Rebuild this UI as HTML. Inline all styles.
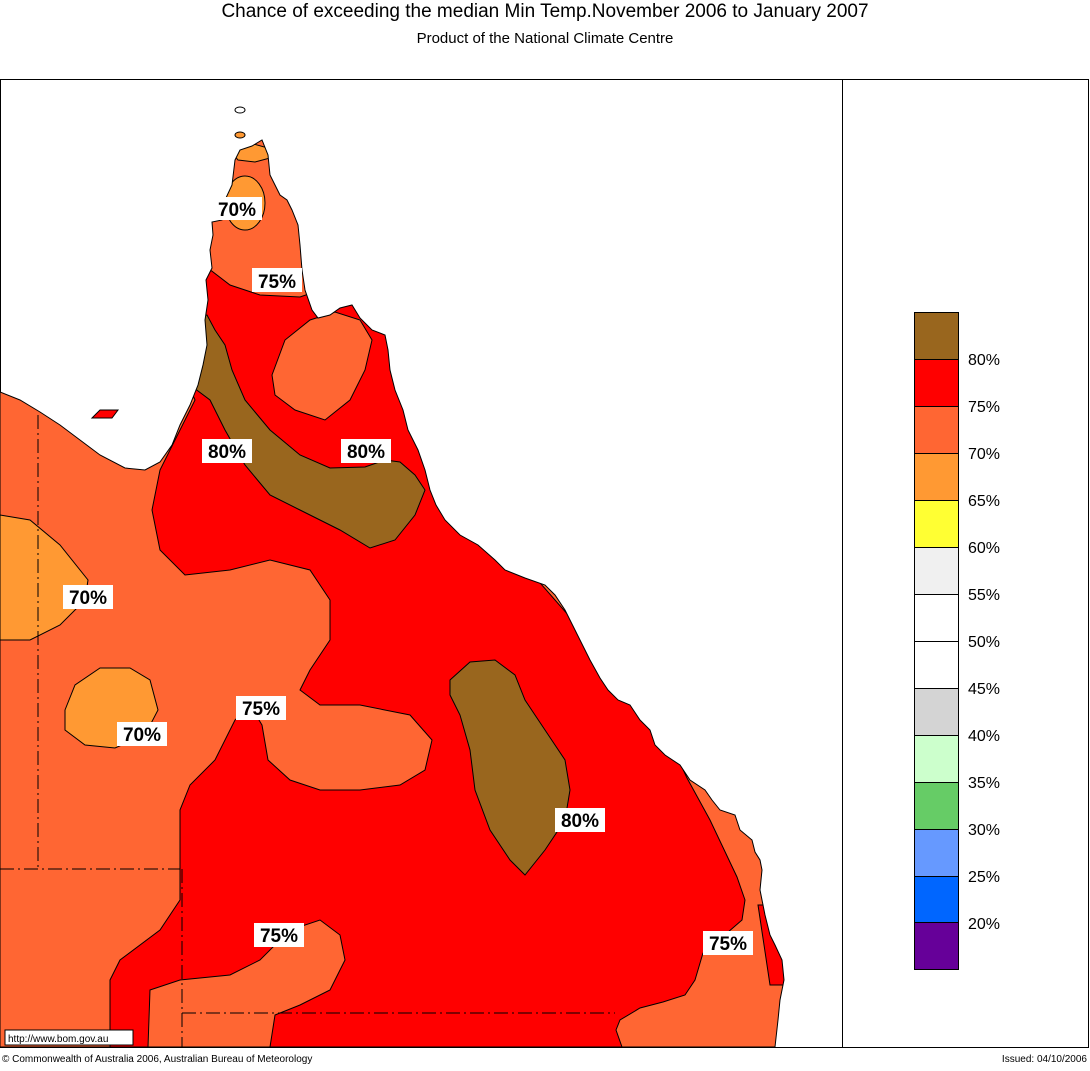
<!DOCTYPE html>
<html><head><meta charset="utf-8"><style>
html,body{margin:0;padding:0;background:#fff;}
body{width:1090px;height:1066px;overflow:hidden;font-family:"Liberation Sans",sans-serif;}
</style></head><body>
<svg width="1090" height="1066" viewBox="0 0 1090 1066" xmlns="http://www.w3.org/2000/svg" font-family="Liberation Sans, sans-serif">
<defs>
<clipPath id="land"><path id="landp" d="M0,392 L20,400 40,412 60,425 80,440 100,455 125,468 145,470 160,462 172,445 180,425 190,405 198,385 203,365 207,345 205,320 208,300 206,280 212,268 210,250 213,235 212,222 222,220 225,200 232,185 235,160 240,150 252,146 262,140 268,155 270,175 280,195 287,200 292,210 298,225 300,245 302,270 305,290 312,310 318,318 330,315 340,308 352,305 360,318 372,330 385,335 388,350 390,370 395,390 403,410 408,430 418,450 425,470 430,490 436,505 445,520 460,535 478,545 495,560 505,570 525,578 545,585 555,595 565,610 575,630 590,660 600,678 608,690 618,700 630,705 640,720 650,730 655,745 665,755 680,765 690,780 705,790 712,800 720,810 735,815 740,830 752,840 755,852 760,860 762,870 760,890 762,900 765,915 770,935 775,945 782,960 784,980 780,1000 778,1020 775,1047 0,1047 Z"/></clipPath>
</defs>
<text x="545" y="17" text-anchor="middle" font-size="19">Chance of exceeding the median Min Temp.November 2006 to January 2007</text>
<text x="545" y="43" text-anchor="middle" font-size="15">Product of the National Climate Centre</text>
<rect x="0.5" y="79.5" width="842" height="968" fill="#fff" stroke="#000"/>
<rect x="842.5" y="79.5" width="246" height="968" fill="#fff" stroke="#000"/>
<g clip-path="url(#land)">
<rect x="0" y="79" width="842" height="968" fill="#ff6633"/>
<path fill="#ff0000" stroke="#000" stroke-width="1" d="M200,262 L230,285 260,295 300,297 320,290 400,320 520,560 660,720 687,778 710,820 737,877 745,900 742,920 727,933 703,953 695,980 685,995 663,1002 640,1008 620,1020 616,1030 622,1047 110,1047 110,980 120,960 160,930 180,900 180,860 180,810 190,785 215,760 235,720 250,705 262,725 268,760 290,780 320,790 360,790 400,785 425,770 432,740 410,715 360,705 320,705 300,690 310,670 330,640 330,600 310,570 270,560 230,570 185,575 160,550 152,510 160,470 180,430 195,400 150,300 Z"/>
<path fill="#ff0000" stroke="#000" d="M758,905 L772,905 790,985 770,985 Z"/>
<path fill="#ff6633" stroke="#000" d="M272,375 L285,340 310,320 335,312 360,320 372,340 365,370 350,400 325,420 295,410 275,395 Z"/>
<path fill="#ff6633" stroke="#000" d="M150,990 L180,980 230,975 260,960 290,930 320,920 340,935 345,960 330,990 300,1005 275,1015 270,1047 148,1047 Z"/>
<path fill="#99661e" stroke="#000" d="M190,318 L207,315 215,330 225,345 232,370 245,400 270,430 300,455 330,468 365,467 385,460 400,462 415,475 425,490 415,515 395,540 370,548 340,530 300,510 270,495 245,465 225,430 210,400 190,385 Z"/>
<path fill="#99661e" stroke="#000" d="M450,680 L470,662 495,660 515,675 525,700 545,730 565,760 570,790 565,820 545,850 525,875 510,860 490,830 475,790 470,750 460,715 450,695 Z"/>
<path fill="#ff9933" stroke="#000" d="M0,515 L30,520 60,545 88,580 85,600 60,625 30,640 0,640 Z"/>
<path fill="#ff9933" stroke="#000" d="M65,710 L75,685 100,668 130,668 150,680 158,710 145,735 115,748 85,745 65,730 Z"/>
<ellipse cx="245" cy="203" rx="20" ry="27" fill="#ff9933" stroke="#000"/>
<path fill="#ff9933" stroke="#000" d="M230,150 L250,143 268,148 270,158 255,162 238,160 Z"/>
</g>
<use href="#landp" fill="none" stroke="#000" stroke-width="1"/>
<path d="M92,418 L100,410 118,410 112,418 Z" fill="#ff0000" stroke="#000"/>
<ellipse cx="240" cy="135" rx="5" ry="3" fill="#ff9933" stroke="#000"/>
<ellipse cx="240" cy="110" rx="5" ry="3" fill="#fff" stroke="#000"/>
<g stroke="#000" stroke-dasharray="14,4,2,4" fill="none">
<path d="M38,415 V870"/><path d="M0,869 H180"/><path d="M182,869 V1047"/><path d="M182,1013 H615"/>
</g>
<g font-size="19" text-anchor="middle" font-weight="bold">
<rect x="212" y="197" width="50" height="23" fill="#fff"/><text x="237" y="216">70%</text>
<rect x="252" y="268" width="50" height="24" fill="#fff"/><text x="277" y="288">75%</text>
<rect x="202" y="439" width="50" height="24" fill="#fff"/><text x="227" y="458">80%</text>
<rect x="341" y="439" width="50" height="24" fill="#fff"/><text x="366" y="458">80%</text>
<rect x="63" y="585" width="50" height="24" fill="#fff"/><text x="88" y="604">70%</text>
<rect x="117" y="722" width="50" height="24" fill="#fff"/><text x="142" y="741">70%</text>
<rect x="236" y="696" width="50" height="24" fill="#fff"/><text x="261" y="715">75%</text>
<rect x="555" y="808" width="50" height="24" fill="#fff"/><text x="580" y="827">80%</text>
<rect x="254" y="923" width="50" height="24" fill="#fff"/><text x="279" y="942">75%</text>
<rect x="703" y="931" width="50" height="24" fill="#fff"/><text x="728" y="950">75%</text>
</g>
<rect x="5" y="1030" width="128" height="15" fill="#fff" stroke="#000"/>
<text x="8" y="1042" font-size="10">http://www.bom.gov.au</text>
<text x="2" y="1062" font-size="10">© Commonwealth of Australia 2006, Australian Bureau of Meteorology</text>
<text x="1087" y="1062" font-size="10" text-anchor="end">Issued: 04/10/2006</text>
<g stroke="#000">
<rect x="914.5" y="312.5" width="44" height="47" fill="#99661e"/>
<rect x="914.5" y="359.5" width="44" height="47" fill="#ff0000"/>
<rect x="914.5" y="406.5" width="44" height="47" fill="#ff6633"/>
<rect x="914.5" y="453.5" width="44" height="47" fill="#ff9933"/>
<rect x="914.5" y="500.5" width="44" height="47" fill="#ffff33"/>
<rect x="914.5" y="547.5" width="44" height="47" fill="#f0f0f0"/>
<rect x="914.5" y="594.5" width="44" height="47" fill="#ffffff"/>
<rect x="914.5" y="641.5" width="44" height="47" fill="#ffffff"/>
<rect x="914.5" y="688.5" width="44" height="47" fill="#d4d4d4"/>
<rect x="914.5" y="735.5" width="44" height="47" fill="#ccffcc"/>
<rect x="914.5" y="782.5" width="44" height="47" fill="#66cc66"/>
<rect x="914.5" y="829.5" width="44" height="47" fill="#6699ff"/>
<rect x="914.5" y="876.5" width="44" height="46" fill="#0066ff"/>
<rect x="914.5" y="922.5" width="44" height="47" fill="#660099"/>
</g>
<g font-size="16">
<text x="968" y="365">80%</text><text x="968" y="412">75%</text><text x="968" y="459">70%</text>
<text x="968" y="506">65%</text><text x="968" y="553">60%</text><text x="968" y="600">55%</text>
<text x="968" y="647">50%</text><text x="968" y="694">45%</text><text x="968" y="741">40%</text>
<text x="968" y="788">35%</text><text x="968" y="835">30%</text><text x="968" y="882">25%</text>
<text x="968" y="929">20%</text>
</g>
</svg>
</body></html>
